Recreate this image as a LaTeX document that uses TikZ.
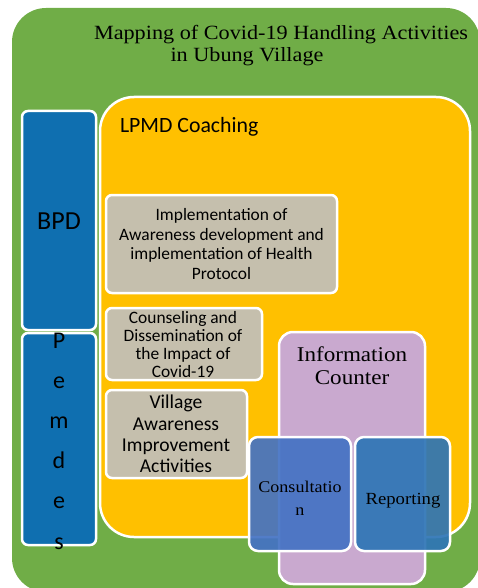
\documentclass[tikz,border=0pt]{standalone}
\usepackage{fontspec}
\setmainfont[FakeStretch=1.1]{Liberation Serif}
\newfontfamily\calfont{Carlito}
\definecolor{cgreen}{HTML}{70AD47}
\definecolor{cyellow}{HTML}{FFC000}
\definecolor{cblue}{HTML}{0F6FB0}
\definecolor{cgray}{HTML}{C5BFAD}
\definecolor{cpurple}{HTML}{C9A9CF}
\definecolor{cconsult}{HTML}{4472C4}
\definecolor{creport}{HTML}{2E75B6}
\tikzset{
  every node/.style={inner sep=0pt, outer sep=0pt},
  sbox/.style={draw=white, line width=2.5pt, rounded corners=6pt, anchor=north west},
  lbl/.style={align=center, text=black},
}
\begin{document}
\begin{tikzpicture}[x=1pt,y=-1pt]
\useasboundingbox (0,0) rectangle (478,588);
% outer green
\fill[cgreen, rounded corners=34pt] (12,8) rectangle (480,592);
\node[lbl, font=\fontsize{20.2}{22}\selectfont] (title1) at (281,35) {Mapping of Covid-19 Handling Activities};
\node[lbl, font=\fontsize{20.2}{22}\selectfont] (title2) at (247,57) {in Ubung Village};
% yellow LPMD
\node[sbox, fill=cyellow, rounded corners=34pt, minimum width=370pt, minimum height=440pt] (lpmd) at (100,97) {};
\node[lbl, font=\calfont\fontsize{21.8}{24}\selectfont, anchor=west] (lpmdt) at (120,127) {LPMD Coaching};
% BPD / Pemdes
\node[sbox, fill=cblue, minimum width=74pt, minimum height=219pt] (bpd) at (22,111) {};
\node[lbl, font=\calfont\fontsize{26}{28}\selectfont] (bpdt) at (59,221) {BPD};
\node[sbox, fill=cblue, minimum width=74pt, minimum height=212pt] (pemdes) at (22,333) {};
\node[lbl, font=\calfont\fontsize{24}{40.2}\selectfont] (pemdest) at (59,441) {P\\e\\m\\d\\e\\s};
% gray activities
\node[sbox, fill=cgray, minimum width=231pt, minimum height=98pt] (g1) at (106,195) {};
\node[lbl, font=\calfont\fontsize{17.4}{19.4}\selectfont] (g1t) at (g1.center) {Implementation of\\Awareness development and\\implementation of Health\\Protocol};
\node[sbox, fill=cgray, minimum width=156pt, minimum height=72pt] (g2) at (106,308) {};
\node[lbl, font=\calfont\fontsize{17.4}{18}\selectfont] (g2t) at (183,345) {Counseling and\\Dissemination of\\the Impact of\\Covid-19};
\node[sbox, fill=cgray, minimum width=141pt, minimum height=88pt] (g3) at (106,390) {};
\node[lbl, font=\calfont\fontsize{19.6}{21.2}\selectfont] (g3t) at (176,434) {Village\\Awareness\\Improvement\\Activities};
% information counter
\node[sbox, fill=cpurple, rounded corners=14pt, minimum width=146pt, minimum height=252pt] (info) at (279,332) {};
\node[lbl, font=\fontsize{21}{23}\selectfont] (infot) at (352,366) {Information\\Counter};
% consultation / reporting
\node[sbox, fill=cconsult, fill opacity=0.92, text opacity=1, rounded corners=9pt, minimum width=102pt, minimum height=114pt] (cons) at (249,437) {};
\node[lbl, font=\fontsize{16.4}{23}\selectfont] (const) at (300,498) {Consultatio\\n};
\node[sbox, fill=creport, fill opacity=0.92, text opacity=1, rounded corners=9pt, minimum width=95pt, minimum height=114pt] (rep) at (355,437) {};
\node[lbl, font=\fontsize{17}{18}\selectfont] (rept) at (403,501) {Reporting};
\end{tikzpicture}
\end{document}
